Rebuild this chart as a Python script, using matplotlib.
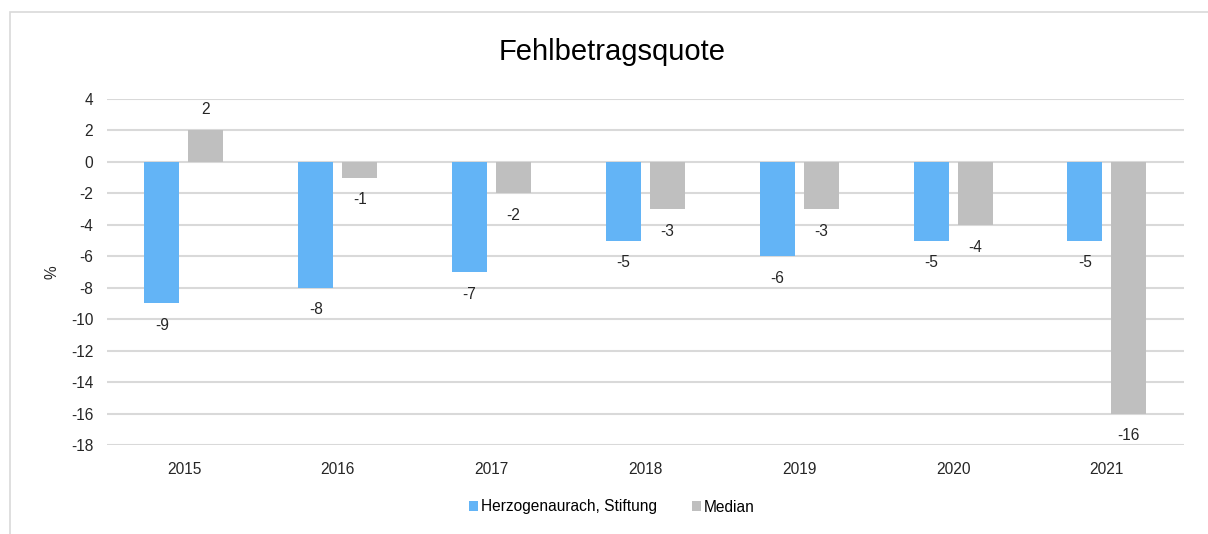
import matplotlib
matplotlib.use('Agg')
import matplotlib.pyplot as plt
from matplotlib.patches import Rectangle
import numpy as np

plt.rcParams['font.family'] = ['Liberation Sans', 'DejaVu Sans']
plt.rcParams['axes.unicode_minus'] = False

years = ['2015', '2016', '2017', '2018', '2019', '2020', '2021']
stiftung = [-9, -8, -7, -5, -6, -5, -5]
median = [2, -1, -2, -3, -3, -4, -16]
seriesNames = ['Herzogenaurach, Stiftung', 'Median']

blue = '#63B4F6'
grey = '#BFBFBF'
fs = 11.2

fig = plt.figure(figsize=(12.08, 5.34), dpi=100)
ax = fig.add_axes([0.0886, 0.1667, 0.8914, 0.6479])

# outer chart border (only top and left visible in the crop)
fig.patches.append(Rectangle((10 / 1208, -0.1), 1.2, 1 - 12 / 534 + 0.1,
                             transform=fig.transFigure, fill=False,
                             edgecolor='#D9D9D9', linewidth=1.2))

x = np.arange(len(years))
w = 0.227
off = 0.143
b1 = ax.bar(x - off, stiftung, w, color=blue, label=seriesNames[0], zorder=3)
b2 = ax.bar(x + off, median, w, color=grey, label=seriesNames[1], zorder=3)

for bars in (b1, b2):
  for rect in bars:
    v = rect.get_height()
    ax.annotate(f'{v:.0f}', (rect.get_x() + rect.get_width() / 2, v),
                xytext=(0, 15 if v >= 0 else -16), textcoords='offset points',
                ha='center', va='center', fontsize=fs, color='#262626')

ax.set_xlim(-0.5, len(years) - 0.5)
ax.set_ylim(-18, 4)
ax.set_yticks(np.arange(-18, 5, 2))
ax.set_xticks(x)
ax.set_xticklabels(years)
ax.tick_params(axis='both', length=0, labelsize=fs, colors='#262626')
ax.tick_params(axis='x', pad=12)
ax.tick_params(axis='y', pad=10)
ax.grid(axis='y', color='#D9D9D9', linewidth=1.5, zorder=0)
for s in ax.spines.values():
  s.set_visible(False)

fig.text(52 / 1208, 1 - 272 / 534, '%', rotation=90, ha='center', va='center',
         fontsize=fs, color='#262626')
fig.text(612 / 1208, 1 - 52 / 534, 'Fehlbetragsquote', ha='center', va='center',
         fontsize=21, color='#000000')

fig.legend(loc='center', bbox_to_anchor=(612 / 1208, 1 - 507 / 534), ncol=2,
           frameon=False, fontsize=fs, handlelength=0.6, handleheight=0.6,
           handletextpad=0.2, columnspacing=2.2)

plt.savefig('out.png', dpi=100)
plt.close()
